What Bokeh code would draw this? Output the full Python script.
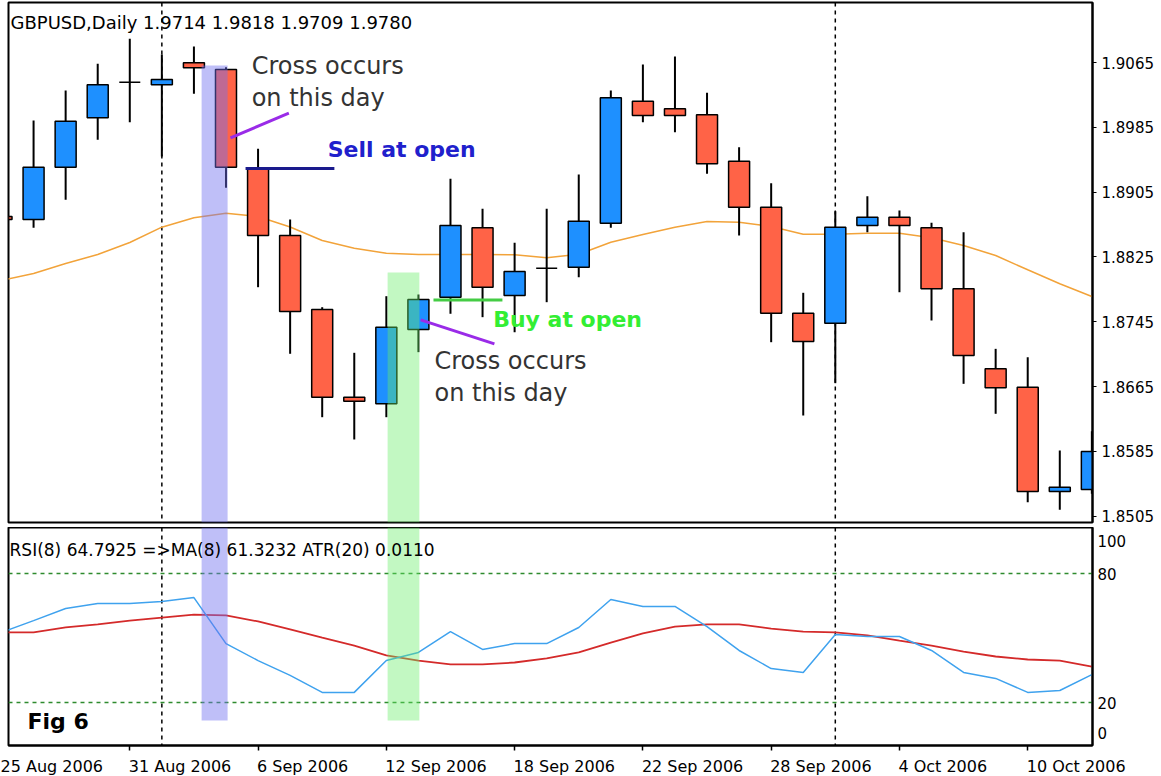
from bokeh.plotting import figure
from bokeh.layouts import column
from bokeh.models import (Range1d, FixedTicker, Span, BoxAnnotation, Label,
                          ColumnDataSource, NumeralTickFormatter)
from bokeh.embed import file_html
from bokeh.resources import INLINE

# ---------------- data ----------------
dates = ["25 Aug", "28 Aug", "29 Aug", "30 Aug", "31 Aug", "1 Sep", "4 Sep", "5 Sep",
         "6 Sep", "7 Sep", "8 Sep", "11 Sep", "12 Sep", "13 Sep", "14 Sep", "15 Sep",
         "18 Sep", "19 Sep", "20 Sep", "21 Sep", "22 Sep", "25 Sep", "26 Sep", "27 Sep",
         "28 Sep", "29 Sep", "2 Oct", "3 Oct", "4 Oct", "5 Oct", "6 Oct", "9 Oct",
         "10 Oct", "11 Oct", "12 Oct"]
opens = [1.88749, 1.88712, 1.89357, 1.89967, 1.90407, 1.90375, 1.90646, 1.90564,
         1.89341, 1.88514, 1.87601, 1.86518, 1.86436, 1.87354, 1.87752, 1.88609,
         1.87773, 1.88111, 1.88123, 1.88666, 1.90172, 1.90078, 1.90004, 1.89432,
         1.88864, 1.87555, 1.87432, 1.88638, 1.88740, 1.88609, 1.87856, 1.86869,
         1.86641, 1.85354, 1.85378]
highs = [1.88900, 1.89934, 1.90304, 1.90634, 1.90943, 1.90749, 1.90848, 1.90592,
         1.89585, 1.88712, 1.87629, 1.87066, 1.87765, 1.87786, 1.89214, 1.88844,
         1.88424, 1.88844, 1.89267, 1.90304, 1.90625, 1.90724, 1.90276, 1.89604,
         1.89160, 1.87807, 1.88814, 1.88999, 1.88823, 1.88671, 1.88555, 1.87115,
         1.87012, 1.85860, 1.86098]
lows = [1.88550, 1.88609, 1.88955, 1.89696, 1.89913, 1.89490, 1.90264, 1.89103,
        1.87876, 1.87054, 1.86271, 1.85996, 1.86271, 1.87074, 1.87548, 1.87506,
        1.87320, 1.87691, 1.87999, 1.88609, 1.89913, 1.89790, 1.89276, 1.88514,
        1.87197, 1.86292, 1.86691, 1.88555, 1.87814, 1.87465, 1.86683, 1.86313,
        1.85222, 1.85128, 1.85325]
closes = [1.88712, 1.89357, 1.89925, 1.90375, 1.90407, 1.90440, 1.90585, 1.89357,
          1.88514, 1.87576, 1.86518, 1.86469, 1.87382, 1.87724, 1.88638, 1.87876,
          1.88070, 1.88111, 1.88691, 1.90214, 1.89996, 1.89996, 1.89399, 1.88864,
          1.87555, 1.87206, 1.88617, 1.88740, 1.88638, 1.87856, 1.87033, 1.86634,
          1.85354, 1.85407, 1.85848]
ma_vals = [1.87959, 1.88045, 1.88169, 1.88280, 1.88428, 1.88617, 1.88733, 1.88790,
           1.88749, 1.88619, 1.88453, 1.88357, 1.88296, 1.88280, 1.88280, 1.88280,
           1.88277, 1.88239, 1.88283, 1.88431, 1.88527, 1.88617, 1.88687, 1.88678,
           1.88625, 1.88530, 1.88530, 1.88543, 1.88543, 1.88486, 1.88391, 1.88267,
           1.88091, 1.87918, 1.87761]
rsi_vals = [52.6, 58.1, 63.7, 66.0, 66.0, 67.0, 68.8, 47.4, 39.5, 32.6, 24.7, 24.7,
            39.5, 43.3, 53.0, 44.7, 47.4, 47.4, 54.9, 67.9, 64.7, 64.7, 55.3, 44.2,
            35.8, 34.0, 51.6, 50.7, 50.7, 44.2, 34.0, 31.2, 24.7, 25.6, 33.0]
rsi_ma_vals = [52.6, 52.6, 54.9, 56.3, 58.1, 59.5, 60.9, 60.5, 57.7, 54.0, 50.2, 46.5,
               41.9, 39.5, 37.7, 37.7, 38.6, 40.5, 43.3, 47.9, 52.1, 55.3, 56.3, 56.3,
               54.4, 53.0, 52.6, 51.2, 48.8, 46.5, 43.7, 41.4, 40.0, 39.5, 36.7]
price_ticks = [1.8505, 1.8585, 1.8665, 1.8745, 1.8825, 1.8905, 1.8985, 1.9065]
date_tick_idx = [0, 4, 8, 12, 16, 20, 24, 28, 32]
date_tick_labels = ["25 Aug 2006", "31 Aug 2006", "6 Sep 2006", "12 Sep 2006",
                    "18 Sep 2006", "22 Sep 2006", "28 Sep 2006", "4 Oct 2006",
                    "10 Oct 2006"]
separator_idx = [5, 26]          # 1 Sep, 2 Oct (month separators)
sell_idx, buy_idx = 7, 13        # days where the cross occurs
header_main = "GBPUSD,Daily  1.9714 1.9818 1.9709 1.9780"
header_ind = "RSI(8) 64.7925  =>MA(8) 61.3232  ATR(20) 0.0110"

# ---------------- styling ----------------
BULL, BEAR = "#1E90FF", "#FF6347"
FONT = "DejaVu Sans"
X0, X1 = 0.218, 34.02
PX_PER_BAR = 1084 / (X1 - X0)
DATE_FONT_PX = 16
# DejaVu Sans advance widths (em) used to left-align date labels at their tick, MT4 style
_EM = {d: 0.636 for d in "0123456789"}
_EM.update({" ": 0.318, "A": 0.684, "u": 0.634, "g": 0.635, "S": 0.635, "e": 0.615,
            "p": 0.635, "O": 0.787, "c": 0.550, "t": 0.392})


def text_px(s, size):
    return sum(_EM.get(ch, 0.6) for ch in s) * size


n = len(dates)
idx = list(range(n))
src = ColumnDataSource(dict(
    x=idx, h=highs, l=lows,
    top=[max(o, c) for o, c in zip(opens, closes)],
    bot=[min(o, c) for o, c in zip(opens, closes)],
    color=[BULL if c > o else (BEAR if c < o else "black") for o, c in zip(opens, closes)],
    ma=ma_vals, rsi=rsi_vals, rsima=rsi_ma_vals))


def lab(fig, x, y, text, size, color="black", bold=False):
    fig.add_layout(Label(x=x, y=y, text=text, text_font=FONT, text_font_size=size,
                         text_color=color, text_baseline="middle", text_align="left",
                         text_font_style="bold" if bold else "normal"))


def style_axis(ax, size="15px"):
    ax.major_label_text_font = FONT
    ax.major_label_text_font_size = size
    ax.major_label_text_color = "black"
    ax.axis_line_width = 2
    ax.minor_tick_out = 0
    ax.minor_tick_in = 0
    ax.major_tick_in = 0


# ---------------- main price panel ----------------
p = figure(frame_width=1084, frame_height=520, x_range=Range1d(X0, X1),
           y_range=Range1d(1.84971, 1.91391), x_axis_location=None,
           y_axis_location="right", output_backend="svg", toolbar_location=None,
           min_border_left=8, min_border_right=69, min_border_top=2, min_border_bottom=5,
           outline_line_color="black", outline_line_width=2, background_fill_color="white",
           border_fill_color="white")
p.xgrid.visible = False
p.ygrid.visible = False
ya = p.yaxis[0]
ya.ticker = FixedTicker(ticks=price_ticks)
ya.formatter = NumeralTickFormatter(format="0.0000")
style_axis(ya)
ya.major_tick_out = 4
ya.major_label_standoff = 5

for s in separator_idx:
    p.add_layout(Span(location=s, dimension="height", line_color="black",
                      line_dash="4 4", line_width=1.5, level="underlay"))

p.line("x", "ma", source=src, line_color="#F2A33A", line_width=1.5)
p.segment(x0="x", y0="l", x1="x", y1="h", source=src, line_color="black", line_width=2)
p.vbar(x="x", width=0.655, top="top", bottom="bot", source=src, fill_color="color",
       line_color="black", line_width=1.5)

# highlight bands
p.add_layout(BoxAnnotation(left=sell_idx - 0.76, right=sell_idx + 0.05, top=1.90613,
                           fill_color="#7070F0", fill_alpha=0.45, line_color=None))
p.add_layout(BoxAnnotation(left=buy_idx - 0.96, right=buy_idx + 0.03, top=1.88057,
                           fill_color="#66EE66", fill_alpha=0.4, line_color=None))

# sell / buy lines and pointers
p.segment(x0=[7.61], y0=[1.8934], x1=[10.38], y1=[1.8934], line_color="#1A1A8C", line_width=3)
p.segment(x0=[13.47], y0=[1.87718], x1=[15.62], y1=[1.87718], line_color="#44CC44", line_width=3)
p.segment(x0=[7.14, 13.07], y0=[1.8972, 1.87473], x1=[8.96, 15.37], y1=[1.90024, 1.87177],
          line_color="#9A2BE8", line_width=3)

lab(p, 0.28, 1.91144, header_main, "18px")
lab(p, 7.80, 1.90613, "Cross occurs", "24px", "#333333")
lab(p, 7.80, 1.90218, "on this day", "24px", "#333333")
lab(p, 13.50, 1.86959, "Cross occurs", "24px", "#333333")
lab(p, 13.50, 1.86576, "on this day", "24px", "#333333")
lab(p, 10.17, 1.89582, "Sell at open", "22px", "#2020CC", True)
lab(p, 15.33, 1.87477, "Buy at open", "22px", "#33EE33", True)

# ---------------- indicator panel ----------------
q = figure(frame_width=1084, frame_height=218, x_range=p.x_range, y_range=Range1d(0, 101.4),
           y_axis_location="right", output_backend="svg", toolbar_location=None,
           min_border_left=8, min_border_right=69, min_border_top=0, min_border_bottom=31,
           outline_line_color="black", outline_line_width=2, background_fill_color="white",
           border_fill_color="white")
q.xgrid.visible = False
q.ygrid.visible = False
qy = q.yaxis[0]
qy.ticker = FixedTicker(ticks=[5.6, 20, 80, 94.9])
qy.major_label_overrides = {5.6: "0", 20: "20", 80: "80", 94.9: "100"}
style_axis(qy)
qy.major_tick_out = 0
qy.major_label_standoff = 5

# date axis: tick marks (minor ticks) at the bars, labels starting at the tick
label_pos = []
for i, t in zip(date_tick_idx, date_tick_labels):
    start_px = -10 if i == 0 else -1          # first label runs off the left edge
    label_pos.append(round(i + (start_px + text_px(t, DATE_FONT_PX) / 2) / PX_PER_BAR, 4))
qx = q.xaxis[0]
qx.ticker = FixedTicker(ticks=label_pos, minor_ticks=date_tick_idx)
qx.major_label_overrides = dict(zip(label_pos, date_tick_labels))
style_axis(qx, f"{DATE_FONT_PX}px")
qx.major_tick_out = 0
qx.minor_tick_out = 5
qx.minor_tick_line_width = 1.5
qx.major_label_standoff = 6

for s in separator_idx:
    q.add_layout(Span(location=s, dimension="height", line_color="black",
                      line_dash="4 4", line_width=1.5, level="underlay"))
for lvl in (20, 80):
    q.add_layout(Span(location=lvl, dimension="width", line_color="#2E8B2E",
                      line_dash="4 4", line_width=1.5, level="underlay"))

q.line("x", "rsima", source=src, line_color="#D42A2A", line_width=1.8)
q.line("x", "rsi", source=src, line_color="#3FA2EE", line_width=1.5)

q.add_layout(BoxAnnotation(left=sell_idx - 0.76, right=sell_idx + 0.05, bottom=11.6,
                           fill_color="#7070F0", fill_alpha=0.45, line_color=None))
q.add_layout(BoxAnnotation(left=buy_idx - 0.96, right=buy_idx + 0.03, bottom=11.6,
                           fill_color="#66EE66", fill_alpha=0.4, line_color=None))

lab(q, 0.25, 91.0, header_ind, "17px")
lab(q, 0.81, 11.2, "Fig 6", "22px", "black", True)

layout = column(p, q, spacing=0)
open("out.html", "w").write(file_html(layout, INLINE))
